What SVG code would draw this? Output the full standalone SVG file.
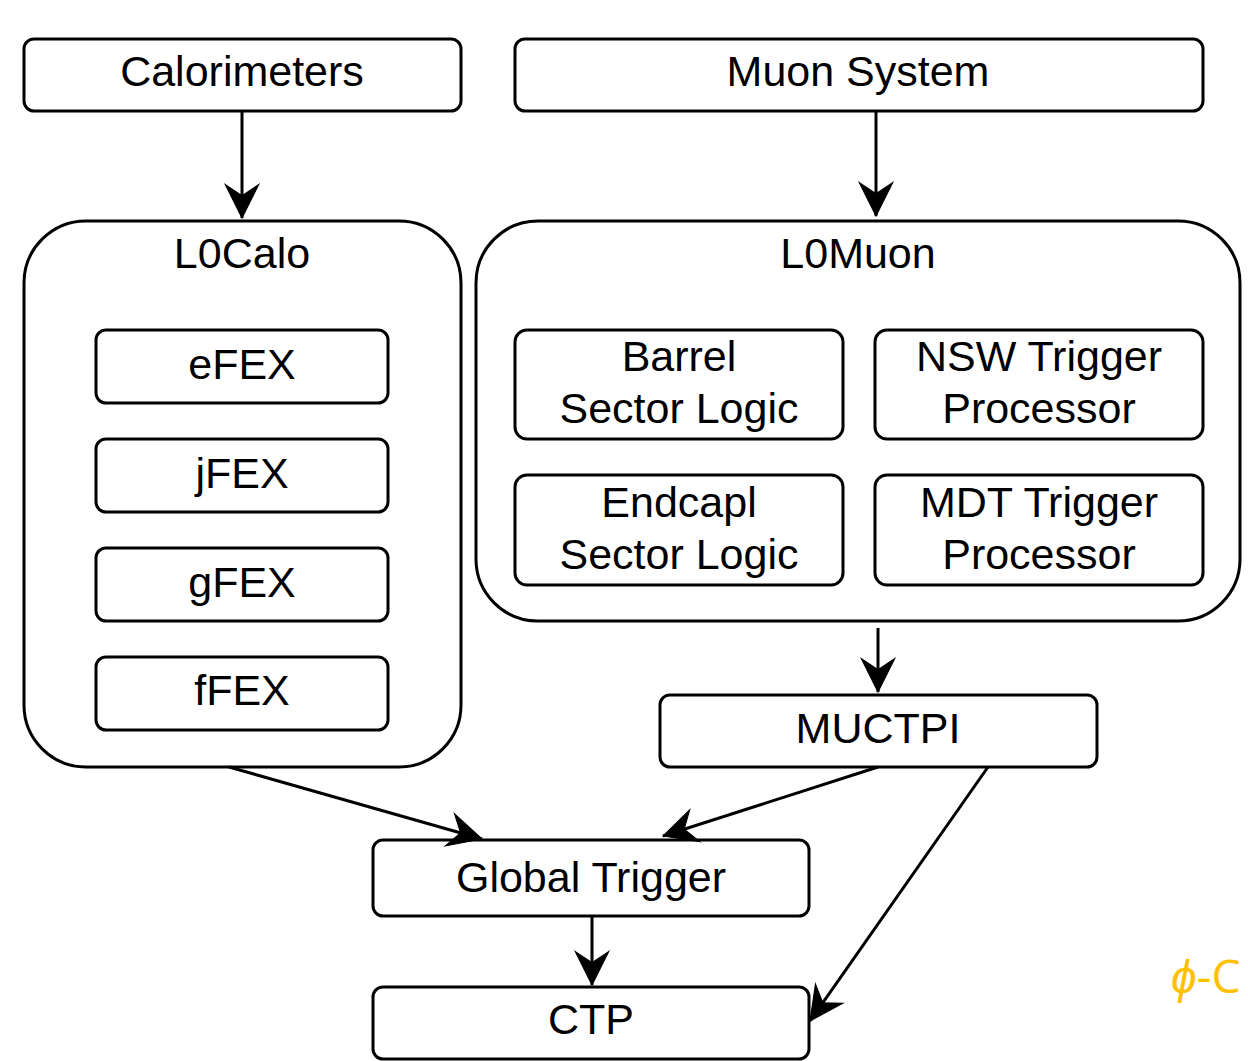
<svg xmlns="http://www.w3.org/2000/svg" width="1248" height="1061" viewBox="0 0 1248 1061">
  <style>
    .box { fill: #ffffff; stroke: #000000; stroke-width: 3; }
    .lbl { font-family: "Liberation Sans", Arial, sans-serif; font-size: 43px; fill: #000000; text-anchor: middle; }
    .edge { fill: none; stroke: #000000; stroke-width: 3; }
    .tag { font-family: "Open Sans", "Liberation Sans", sans-serif; font-size: 46px; fill: #FFC000; }
  </style>
  <defs>
    <marker id="arrow" markerUnits="userSpaceOnUse" markerWidth="40" markerHeight="40" viewBox="-32 -18 36 36" refX="0" refY="0" orient="auto">
      <path d="M0,0 L-30,-15 L-20,0 L-30,15 Z" fill="#000000" stroke="#000000" stroke-width="1"/>
    </marker>
  </defs>
  <rect width="1248" height="1061" fill="#ffffff"/>

  <g id="calorimeters">
    <rect class="box" x="24" y="39" width="437" height="72" rx="10"/>
    <text class="lbl" x="242" y="86">Calorimeters</text>
  </g>
  <g id="muon-system">
    <rect class="box" x="515" y="39" width="688" height="72" rx="10"/>
    <text class="lbl" x="858" y="86">Muon System</text>
  </g>

  <g id="l0calo">
    <rect class="box" x="24" y="221" width="437" height="546" rx="62"/>
    <text class="lbl" x="242" y="268">L0Calo</text>
  </g>
  <g id="efex">
    <rect class="box" x="96" y="330" width="292" height="73" rx="10"/>
    <text class="lbl" x="242" y="379">eFEX</text>
  </g>
  <g id="jfex">
    <rect class="box" x="96" y="439" width="292" height="73" rx="10"/>
    <text class="lbl" x="242" y="488">jFEX</text>
  </g>
  <g id="gfex">
    <rect class="box" x="96" y="548" width="292" height="73" rx="10"/>
    <text class="lbl" x="242" y="597">gFEX</text>
  </g>
  <g id="ffex">
    <rect class="box" x="96" y="657" width="292" height="73" rx="10"/>
    <text class="lbl" x="242" y="705">fFEX</text>
  </g>

  <g id="l0muon">
    <rect class="box" x="476" y="221" width="764" height="400" rx="62"/>
    <text class="lbl" x="858" y="268">L0Muon</text>
  </g>
  <g id="barrel-sector-logic">
    <rect class="box" x="515" y="330" width="328" height="109" rx="12"/>
    <text class="lbl" x="679" y="371">Barrel</text>
    <text class="lbl" x="679" y="423">Sector Logic</text>
  </g>
  <g id="nsw-trigger-processor">
    <rect class="box" x="875" y="330" width="328" height="109" rx="12"/>
    <text class="lbl" x="1039" y="371">NSW Trigger</text>
    <text class="lbl" x="1039" y="423">Processor</text>
  </g>
  <g id="endcap-sector-logic">
    <rect class="box" x="515" y="475" width="328" height="110" rx="12"/>
    <text class="lbl" x="679" y="517">Endcapl</text>
    <text class="lbl" x="679" y="569">Sector Logic</text>
  </g>
  <g id="mdt-trigger-processor">
    <rect class="box" x="875" y="475" width="328" height="110" rx="12"/>
    <text class="lbl" x="1039" y="517">MDT Trigger</text>
    <text class="lbl" x="1039" y="569">Processor</text>
  </g>

  <g id="muctpi">
    <rect class="box" x="660" y="695" width="437" height="72" rx="10"/>
    <text class="lbl" x="878" y="743">MUCTPI</text>
  </g>
  <g id="global-trigger">
    <rect class="box" x="373" y="840" width="436" height="76" rx="10"/>
    <text class="lbl" x="591" y="892">Global Trigger</text>
  </g>
  <g id="ctp">
    <rect class="box" x="373" y="987" width="436" height="72" rx="10"/>
    <text class="lbl" x="591" y="1034">CTP</text>
  </g>

  <g id="connectors">
    <line class="edge" x1="242" y1="111" x2="242" y2="218" marker-end="url(#arrow)"/>
    <line class="edge" x1="876" y1="111" x2="876" y2="216" marker-end="url(#arrow)"/>
    <line class="edge" x1="878" y1="628" x2="878" y2="692" marker-end="url(#arrow)"/>
    <line class="edge" x1="229" y1="767" x2="482" y2="839" marker-end="url(#arrow)"/>
    <line class="edge" x1="878" y1="767" x2="663" y2="836" marker-end="url(#arrow)"/>
    <line class="edge" x1="988" y1="767" x2="810" y2="1021" marker-end="url(#arrow)"/>
    <line class="edge" x1="592" y1="916" x2="592" y2="985" marker-end="url(#arrow)"/>
  </g>

  <text class="tag" x="1171" y="993"><tspan font-style="italic">ϕ</tspan>-C</text>
</svg>
